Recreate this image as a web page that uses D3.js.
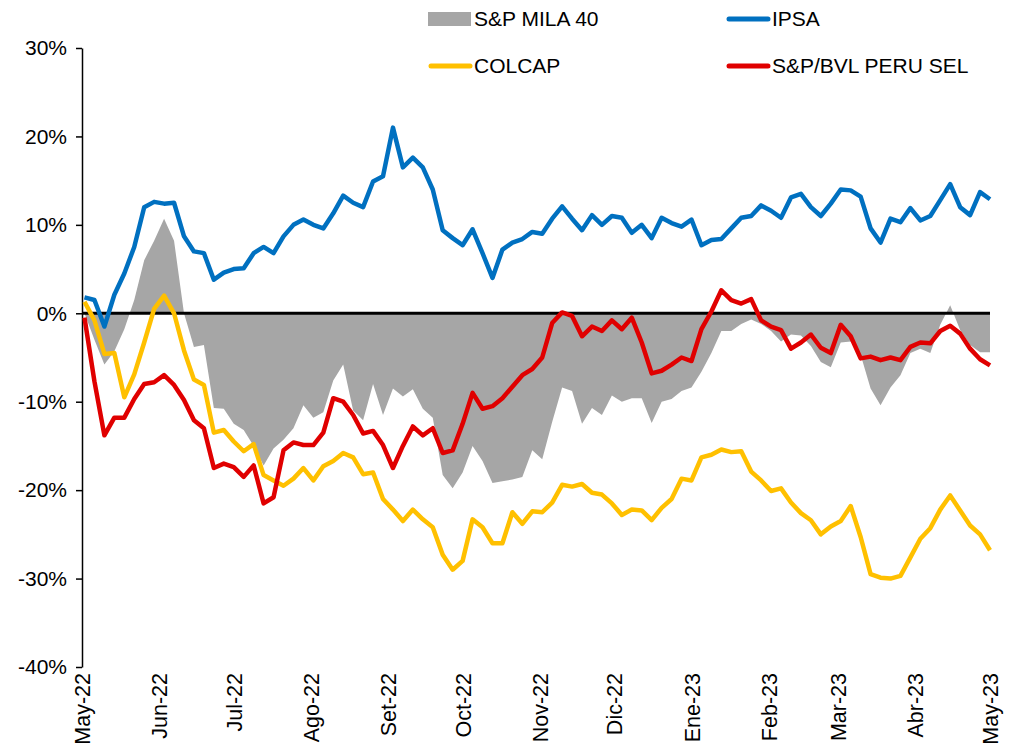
<!DOCTYPE html>
<html lang="es">
<head>
<meta charset="UTF-8">
<title>MILA</title>
<script src="https://d3js.org/d3.v7.min.js"></script>
<style>
  body { margin: 0; background: #fff; }
  svg { display: block; font-family: "Liberation Sans", Arial, sans-serif; }
</style>
</head>
<body>
<div id="chart"></div>
<script>
// fechas: cada 4 días desde el 2 de mayo de 2022
const dates = d3.timeDay.range(new Date(2022, 4, 2), new Date(2023, 4, 2), 4);

// rendimientos acumulados (%)
const mila40 = [0.0,-3.0,-5.8,-4.3,-1.8,1.5,6.0,8.2,10.7,8.2,
  0.0,-3.8,-3.6,-10.7,-10.8,-12.5,-13.2,-15.0,-17.2,-15.3,
  -14.3,-13.0,-10.4,-11.8,-11.2,-7.6,-5.8,-11.0,-12.1,-8.0,
  -11.5,-8.5,-9.4,-8.6,-10.8,-11.8,-18.3,-19.8,-18.0,-15.0,
  -16.7,-19.2,-19.0,-18.8,-18.5,-15.5,-16.5,-12.3,-8.4,-8.8,
  -12.5,-10.7,-11.5,-9.3,-10.0,-9.6,-9.6,-12.4,-10.0,-9.7,
  -8.8,-8.4,-6.6,-4.5,-2.0,-2.0,-1.2,-0.7,-1.2,-2.0,
  -3.2,-2.4,-2.5,-3.7,-5.5,-6.1,-3.3,-3.2,-4.7,-8.5,
  -10.4,-8.4,-7.0,-4.5,-4.0,-4.5,-1.3,0.9,-1.9,-3.6,-4.4,-4.4];

const ipsa = [1.8,1.5,-1.5,2.1,4.5,7.5,12.0,12.6,12.4,12.5,
  8.7,7.0,6.8,3.8,4.6,5.0,5.1,6.8,7.5,6.8,
  8.7,10.0,10.6,10.0,9.6,11.3,13.3,12.5,12.0,14.9,
  15.5,21.0,16.5,17.6,16.5,14.0,9.4,8.5,7.7,9.5,
  6.8,4.0,7.2,8.0,8.4,9.2,9.0,10.7,12.1,10.7,
  9.4,11.1,10.0,11.0,10.8,9.1,10.0,8.5,10.8,10.2,
  9.8,10.6,7.7,8.3,8.4,9.6,10.8,11.0,12.2,11.6,
  10.8,13.1,13.5,12.0,11.0,12.4,14.0,13.9,13.2,9.6,
  8.0,10.7,10.3,11.9,10.5,11.0,12.8,14.6,12.0,11.1,13.7,12.9];

const colcap = [1.3,-0.8,-4.6,-4.5,-9.5,-6.9,-3.3,0.5,2.0,0.0,
  -4.2,-7.5,-8.1,-13.5,-13.2,-14.5,-15.6,-14.8,-18.3,-18.9,
  -19.5,-18.7,-17.5,-18.9,-17.3,-16.7,-15.8,-16.3,-18.2,-18.0,
  -21.0,-22.2,-23.5,-22.2,-23.3,-24.2,-27.3,-29.0,-28.0,-23.3,
  -24.2,-26.0,-26.0,-22.5,-23.8,-22.4,-22.5,-21.4,-19.4,-19.6,
  -19.3,-20.3,-20.5,-21.5,-22.8,-22.2,-22.3,-23.4,-22.0,-21.0,
  -18.7,-18.9,-16.3,-16.0,-15.4,-15.7,-15.6,-17.9,-18.9,-20.1,
  -19.8,-21.4,-22.6,-23.4,-25.0,-24.1,-23.5,-21.8,-25.3,-29.5,
  -29.9,-30.0,-29.7,-27.6,-25.5,-24.3,-22.2,-20.6,-22.3,-24.0,-25.0,-26.8];

const peru = [-0.5,-7.7,-13.8,-11.8,-11.8,-9.7,-8.0,-7.8,-7.0,-8.1,
  -9.8,-12.1,-13.0,-17.5,-17.0,-17.4,-18.5,-17.2,-21.5,-20.8,
  -15.5,-14.6,-14.9,-14.9,-13.5,-9.6,-10.0,-11.5,-13.6,-13.3,
  -14.9,-17.5,-15.0,-12.8,-13.8,-13.0,-15.8,-15.5,-12.5,-9.0,
  -10.8,-10.5,-9.6,-8.3,-7.0,-6.3,-5.0,-1.1,0.1,-0.3,
  -2.6,-1.5,-2.0,-0.8,-1.8,-0.5,-3.3,-6.8,-6.5,-5.8,
  -5.0,-5.4,-1.8,0.2,2.6,1.5,1.1,1.6,-0.8,-1.5,
  -1.9,-4.0,-3.3,-2.4,-3.9,-4.5,-1.3,-2.6,-5.1,-4.9,
  -5.3,-5.0,-5.3,-3.8,-3.3,-3.4,-2.0,-1.4,-2.3,-4.0,-5.2,-5.9];

const monthLabels = ["May-22","Jun-22","Jul-22","Ago-22","Set-22","Oct-22","Nov-22",
  "Dic-22","Ene-23","Feb-23","Mar-23","Abr-23","May-23"];
const yTicks = [30, 20, 10, 0, -10, -20, -30, -40];

const width = 1026, height = 753;

const svg = d3.select("#chart").append("svg")
  .attr("width", width)
  .attr("height", height);

const x = d3.scaleTime()
  .domain([new Date(2022, 4, 1), new Date(2023, 4, 1)])
  .range([82, 990]);

const y = d3.scaleLinear()
  .domain([-40, 30])
  .range([667, 48]);

// area gris S&P MILA 40
const area = d3.area()
  .x((d, i) => x(dates[i]))
  .y0(y(0))
  .y1(d => y(d));

svg.append("path")
  .datum(mila40)
  .attr("d", area)
  .attr("fill", "#a6a6a6");

// eje Y
const yAxis = svg.append("g")
  .attr("transform", "translate(82,0)")
  .call(d3.axisLeft(y).tickValues(yTicks).tickSize(6).tickSizeOuter(0).tickPadding(9)
    .tickFormat(d => d + "%"));
yAxis.selectAll("path, line").attr("stroke", "#000").attr("stroke-width", 1.5);
yAxis.selectAll("text").style("font-size", "21px").style("font-family", "Liberation Sans, Arial, sans-serif").attr("fill", "#000");

// etiquetas del eje X
const months = d3.timeMonth.range(new Date(2022, 4, 1), new Date(2023, 4, 2));
const xAxis = svg.append("g")
  .attr("transform", "translate(0,667)")
  .call(d3.axisBottom(x).tickValues(months).tickSize(0)
    .tickFormat((d, i) => monthLabels[i]));
xAxis.select(".domain").remove();
xAxis.selectAll("text")
  .attr("transform", "rotate(-90)")
  .attr("x", -6)
  .attr("y", 0)
  .attr("dy", "0.35em")
  .style("text-anchor", "end")
  .style("font-size", "21.5px")
  .style("font-family", "Liberation Sans, Arial, sans-serif")
  .attr("fill", "#000");

// linea del cero
svg.append("line")
  .attr("x1", x(new Date(2022, 4, 1)))
  .attr("x2", x(new Date(2023, 4, 1)))
  .attr("y1", y(0))
  .attr("y2", y(0))
  .attr("stroke", "#000")
  .attr("stroke-width", 3);

// series
const line = d3.line()
  .x((d, i) => x(dates[i]))
  .y(d => y(d));

const series = [
  { name: "IPSA", values: ipsa, color: "#0070c0" },
  { name: "COLCAP", values: colcap, color: "#ffc000" },
  { name: "S&P/BVL PERU SEL", values: peru, color: "#e00000" }
];

series.forEach(s => {
  svg.append("path")
    .datum(s.values)
    .attr("d", line)
    .attr("fill", "none")
    .attr("stroke", s.color)
    .attr("stroke-width", 4.5)
    .attr("stroke-linejoin", "round");
});

// leyenda
const legend = [
  { name: "S&P MILA 40", color: "#a6a6a6", kind: "rect", lx: 428, ly: 19 },
  { name: "IPSA", color: "#0070c0", kind: "line", lx: 726, ly: 19 },
  { name: "COLCAP", color: "#ffc000", kind: "line", lx: 428, ly: 66 },
  { name: "S&P/BVL PERU SEL", color: "#e00000", kind: "line", lx: 726, ly: 66 }
];

const lg = svg.append("g").selectAll("g")
  .data(legend)
  .enter().append("g")
  .attr("transform", d => `translate(${d.lx},${d.ly})`);

lg.filter(d => d.kind === "rect").append("rect")
  .attr("x", 0).attr("y", -7).attr("width", 43).attr("height", 14)
  .attr("fill", d => d.color);

lg.filter(d => d.kind === "line").append("line")
  .attr("x1", 3).attr("x2", 42).attr("y1", 0).attr("y2", 0)
  .attr("stroke", d => d.color)
  .attr("stroke-width", 5)
  .attr("stroke-linecap", "round");

lg.append("text")
  .attr("x", 46)
  .attr("dy", "0.35em")
  .style("font-size", "21px")
  .text(d => d.name);
</script>
</body>
</html>
